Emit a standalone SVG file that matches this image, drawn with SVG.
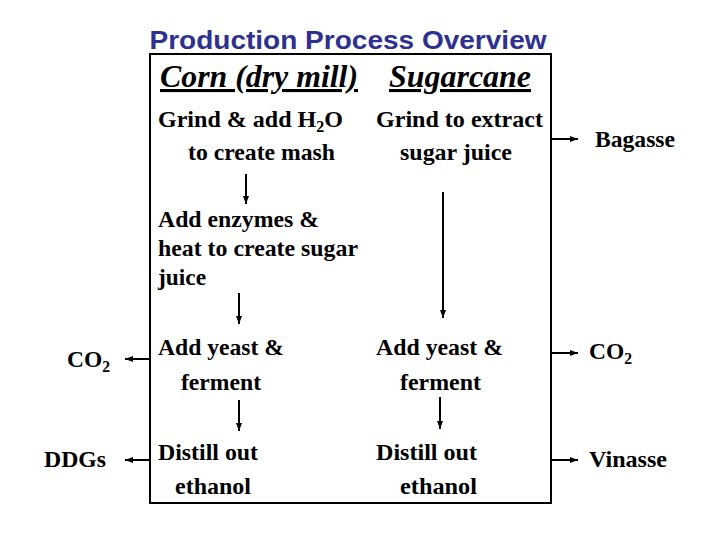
<svg xmlns="http://www.w3.org/2000/svg" width="720" height="540" viewBox="0 0 720 540">
<defs>
<marker id="ah" markerUnits="userSpaceOnUse" markerWidth="10" markerHeight="8" refX="8" refY="4" orient="auto">
<path d="M0,1 L8,4 L0,7 Z" fill="#000"/>
</marker>
<style>
.t{font-weight:bold;font-size:24px;fill:#000}
.h{font-weight:bold;font-style:italic;font-size:31px;fill:#000;text-decoration:underline}
.title{font-family:"Liberation Sans",Arial,sans-serif;font-weight:bold;font-size:25px;fill:#2E3192}
.ln{stroke:#000;stroke-width:2;fill:none;marker-end:url(#ah)}
.sub{font-size:16px}
</style>
</defs>
<rect width="720" height="540" fill="#fff"/>
<text class="title" x="348" y="49" text-anchor="middle" textLength="397" lengthAdjust="spacingAndGlyphs">Production Process Overview</text>
<g id="box"><rect x="150" y="54" width="401" height="449" fill="none" stroke="#000" stroke-width="2"/></g>
<g font-family="Liberation Serif, Times New Roman, DejaVu Serif, serif">
<g id="headers">
<text class="h" x="160" y="87" textLength="198" lengthAdjust="spacingAndGlyphs">Corn (dry mill)</text>
<text class="h" x="389" y="87" textLength="142" lengthAdjust="spacingAndGlyphs">Sugarcane</text>
</g>
<g id="corn-grind">
<text class="t" x="158" y="127" textLength="185" lengthAdjust="spacingAndGlyphs">Grind &amp; add H<tspan class="sub" dy="5">2</tspan><tspan dy="-5">O</tspan></text>
<text class="t" x="188" y="160" textLength="147" lengthAdjust="spacingAndGlyphs">to create mash</text>
</g>
<g id="cane-grind">
<text class="t" x="376" y="127" textLength="167" lengthAdjust="spacingAndGlyphs">Grind to extract</text>
<text class="t" x="400" y="160" textLength="112" lengthAdjust="spacingAndGlyphs">sugar juice</text>
</g>
<g id="corn-enzymes">
<text class="t" x="158" y="227" textLength="161" lengthAdjust="spacingAndGlyphs">Add enzymes &amp;</text>
<text class="t" x="158" y="256" textLength="200" lengthAdjust="spacingAndGlyphs">heat to create sugar</text>
<text class="t" x="158" y="285" textLength="48" lengthAdjust="spacingAndGlyphs">juice</text>
</g>
<g id="corn-yeast">
<text class="t" x="158" y="355" textLength="126" lengthAdjust="spacingAndGlyphs">Add yeast &amp;</text>
<text class="t" x="181" y="390" textLength="80" lengthAdjust="spacingAndGlyphs">ferment</text>
</g>
<g id="cane-yeast">
<text class="t" x="376" y="355" textLength="127" lengthAdjust="spacingAndGlyphs">Add yeast &amp;</text>
<text class="t" x="400" y="390" textLength="81" lengthAdjust="spacingAndGlyphs">ferment</text>
</g>
<g id="corn-distill">
<text class="t" x="158" y="460" textLength="100" lengthAdjust="spacingAndGlyphs">Distill out</text>
<text class="t" x="175" y="494" textLength="76" lengthAdjust="spacingAndGlyphs">ethanol</text>
</g>
<g id="cane-distill">
<text class="t" x="376" y="460" textLength="101" lengthAdjust="spacingAndGlyphs">Distill out</text>
<text class="t" x="400" y="494" textLength="77" lengthAdjust="spacingAndGlyphs">ethanol</text>
</g>
<g id="out-co2-left"><text class="t" x="67" y="367" textLength="43" lengthAdjust="spacingAndGlyphs">CO<tspan class="sub" dy="5">2</tspan></text></g>
<g id="out-ddgs"><text class="t" x="44" y="467" textLength="62" lengthAdjust="spacingAndGlyphs">DDGs</text></g>
<g id="out-bagasse"><text class="t" x="595" y="147" textLength="80" lengthAdjust="spacingAndGlyphs">Bagasse</text></g>
<g id="out-co2-right"><text class="t" x="589" y="359" textLength="43" lengthAdjust="spacingAndGlyphs">CO<tspan class="sub" dy="5">2</tspan></text></g>
<g id="out-vinasse"><text class="t" x="589" y="467" textLength="78" lengthAdjust="spacingAndGlyphs">Vinasse</text></g>
</g>
<g id="connectors">
<line class="ln" x1="246" y1="174" x2="246" y2="204"/>
<line class="ln" x1="443" y1="192" x2="443" y2="318"/>
<line class="ln" x1="239" y1="293" x2="239" y2="324"/>
<line class="ln" x1="239" y1="400" x2="239" y2="431"/>
<line class="ln" x1="440" y1="397" x2="440" y2="429"/>
<line class="ln" x1="150" y1="359" x2="125" y2="359"/>
<line class="ln" x1="150" y1="460" x2="125" y2="460"/>
<line class="ln" x1="551" y1="139" x2="578" y2="139"/>
<line class="ln" x1="551" y1="353" x2="578" y2="353"/>
<line class="ln" x1="551" y1="460" x2="578" y2="460"/>
</g>
</svg>
